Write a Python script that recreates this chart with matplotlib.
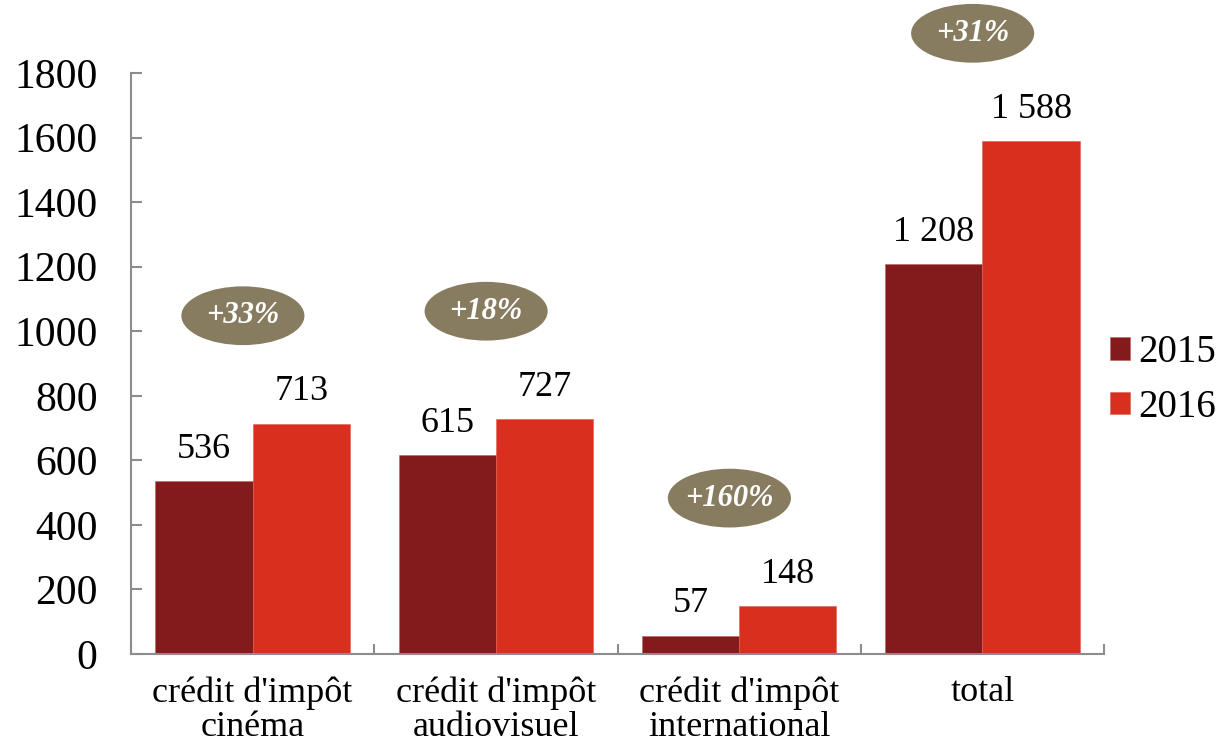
import matplotlib
matplotlib.use("Agg")
import matplotlib.pyplot as plt
from matplotlib.patches import Ellipse
import numpy as np

categories = ["crédit d'impôt\ncinéma", "crédit d'impôt\naudiovisuel",
              "crédit d'impôt\ninternational", "total"]
series_names = ["2015", "2016"]
values_2015 = [536, 615, 57, 1208]
values_2016 = [713, 727, 148, 1588]
yticks = [0, 200, 400, 600, 800, 1000, 1200, 1400, 1600, 1800]

col_2015 = "#831A1B"
col_2016 = "#D82F1F"
col_ell = "#877C60"
axis_col = "#8C8C8C"

plt.rcParams['font.family'] = ['Liberation Serif', 'DejaVu Serif']

fig = plt.figure(figsize=(12.18, 7.44), dpi=100)
ax = fig.add_axes([131/1218, 90/744, (1104-131)/1218, (654-73)/744])

x = np.arange(len(categories))
w = 0.4
b1 = ax.bar(x - w/2, values_2015, w, color=col_2015, edgecolor="#C06060", linewidth=0.4, label=series_names[0])
b2 = ax.bar(x + w/2, values_2016, w, color=col_2016, edgecolor="#E06050", linewidth=0.4, label=series_names[1])

def fmt(v):
    return f"{v:,}".replace(",", " ")

for bars, vals in ((b1, values_2015), (b2, values_2016)):
    for r, v in zip(bars, vals):
        ax.annotate(fmt(v), (r.get_x() + r.get_width()/2, v), xytext=(0, 23),
                    textcoords="offset points", ha="center", va="center",
                    fontsize=26, color="black")

# growth ellipses
for i, (a, b) in enumerate(zip(values_2015, values_2016)):
    pct = round((b / a - 1) * 100)
    cx = x[i] - 0.04
    cy = max(a, b) + 335
    e = Ellipse((cx, cy), 0.506, 182, facecolor=col_ell, edgecolor="none", clip_on=False, zorder=3)
    ax.add_patch(e)
    ax.text(cx, cy, f"+{pct}%", ha="center", va="center", color="white",
            fontsize=22, fontweight="bold", fontstyle="italic", zorder=4, clip_on=False)

ax.set_xlim(-0.5, len(categories) - 0.5)
ax.set_ylim(0, 1800)
ax.set_yticks(yticks)
ax.set_yticklabels([str(t) for t in yticks], fontsize=30)
ax.tick_params(axis="y", direction="in", length=8, width=1.5, color=axis_col, pad=24)

ax.set_xticks(x)
ax.set_xticklabels(categories, fontsize=26, linespacing=1.05)
ax.tick_params(axis="x", which="major", length=0, pad=16)
ax.set_xticks(np.arange(len(categories) + 1) - 0.5, minor=True)
ax.tick_params(axis="x", which="minor", direction="in", length=7, width=1.5, color=axis_col)

for s in ("top", "right"):
    ax.spines[s].set_visible(False)
for s in ("left", "bottom"):
    ax.spines[s].set_color(axis_col)
    ax.spines[s].set_linewidth(1.5)

leg = fig.legend(handles=[b1, b2], labels=series_names, loc="center left",
                 bbox_to_anchor=(1094/1218, 1 - 380/744), frameon=False,
                 borderaxespad=0, fontsize=28, handlelength=0.52, handleheight=0.52,
                 handletextpad=0.23, labelspacing=0.45)

fig.savefig("out.png", dpi=100)
